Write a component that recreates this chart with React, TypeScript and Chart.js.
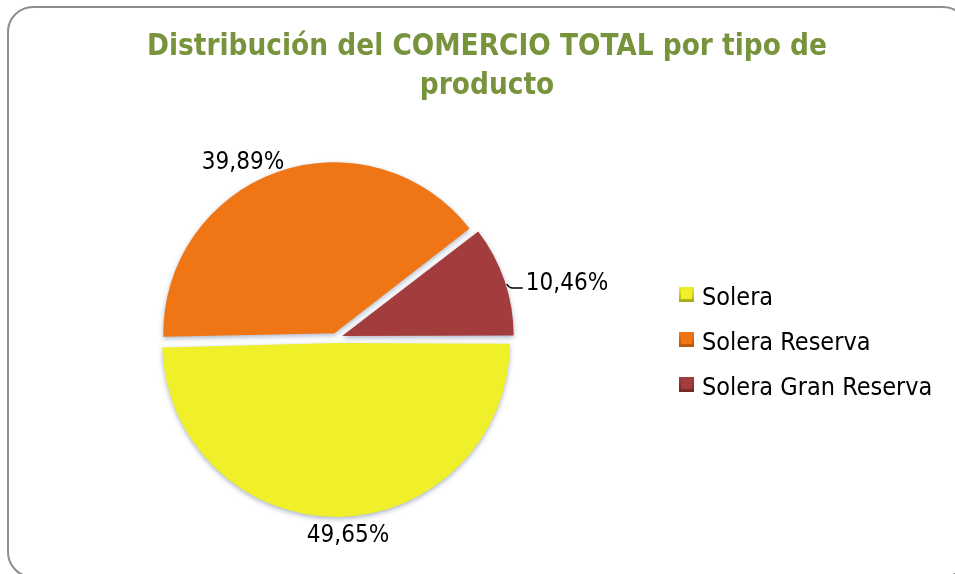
import React, { useEffect, useRef } from 'react';
import { Chart, registerables } from 'chart.js';

Chart.register(...registerables);

const categories = ['Solera', 'Solera Reserva', 'Solera Gran Reserva'];
const shares = [49.65, 39.89, 10.46];
const sliceColors = ['#EFF02A', '#F07615', '#A33D3D'];
const legendEdge = ['#A8A818', '#B85508', '#742525'];
const titleLines = ['Distribución del COMERCIO TOTAL por tipo de', 'producto'];

const fmt = (v: number) => v.toFixed(2).replace('.', ',') + '%';

function roundRectPath(ctx: CanvasRenderingContext2D, x: number, y: number, w: number, h: number, r: number) {
  ctx.beginPath();
  ctx.moveTo(x + r, y);
  ctx.lineTo(x + w - r, y);
  ctx.arcTo(x + w, y, x + w, y + r, r);
  ctx.lineTo(x + w, y + h - r);
  ctx.arcTo(x + w, y + h, x + w - r, y + h, r);
  ctx.lineTo(x + r, y + h);
  ctx.arcTo(x, y + h, x, y + h - r, r);
  ctx.lineTo(x, y + r);
  ctx.arcTo(x, y, x + r, y, r);
  ctx.closePath();
}

const FONT = '"DejaVu Sans Condensed", "DejaVu Sans", sans-serif';

const decorPlugin = {
  id: 'decor',
  beforeDraw(chart: any) {
    const ctx = chart.ctx as CanvasRenderingContext2D;
    ctx.save();
    ctx.fillStyle = '#ffffff';
    ctx.fillRect(0, 0, chart.width, chart.height);
    ctx.strokeStyle = '#8c8c8c';
    ctx.lineWidth = 2;
    roundRectPath(ctx, 8, 7, 960, 570, 25);
    ctx.stroke();
    ctx.fillStyle = '#77933C';
    ctx.font = 'bold 29.4px ' + FONT;
    ctx.textAlign = 'center';
    ctx.textBaseline = 'alphabetic';
    ctx.fillText(titleLines[0], 487, 55);
    ctx.fillText(titleLines[1], 487, 94);
    ctx.restore();
  },
  beforeDatasetsDraw(chart: any) {
    const ctx = chart.ctx as CanvasRenderingContext2D;
    ctx.save();
    ctx.shadowColor = 'rgba(70, 90, 130, 0.45)';
    ctx.shadowBlur = 5;
    ctx.shadowOffsetX = 0;
    ctx.shadowOffsetY = 2;
  },
  afterDatasetsDraw(chart: any) {
    const ctx = chart.ctx as CanvasRenderingContext2D;
    ctx.restore();
    const meta = chart.getDatasetMeta(0);
    const cx = meta.data[0].x;
    const cy = meta.data[0].y;
    // data labels, placed relative to the pie centre
    const labelShift = [
      [12, 204],
      [-93, -169],
      [231, -48],
    ];
    ctx.save();
    ctx.fillStyle = '#000';
    ctx.font = '24px ' + FONT;
    ctx.textAlign = 'center';
    ctx.textBaseline = 'alphabetic';
    shares.forEach((v, i) => {
      ctx.fillText(fmt(v), cx + labelShift[i][0], cy + labelShift[i][1]);
    });
    // leader line for the small slice, ending at its label
    const w = ctx.measureText(fmt(shares[2])).width;
    const lx = cx + labelShift[2][0] - w / 2 - 3;
    const ly = cy + labelShift[2][1] - 2;
    ctx.strokeStyle = '#000';
    ctx.lineWidth = 1.5;
    ctx.beginPath();
    ctx.moveTo(lx - 16, ly - 4);
    ctx.quadraticCurveTo(lx - 14, ly, lx - 10, ly);
    ctx.lineTo(lx, ly);
    ctx.stroke();

    // legend
    ctx.font = '25px ' + FONT;
    ctx.textAlign = 'left';
    categories.forEach((c, i) => {
      const base = 305 + i * 45;
      const g = ctx.createLinearGradient(0, base - 18, 0, base - 3);
      g.addColorStop(0, sliceColors[i]);
      g.addColorStop(1, legendEdge[i]);
      ctx.fillStyle = g;
      ctx.fillRect(679, base - 18, 15, 15);
      ctx.fillStyle = sliceColors[i];
      ctx.fillRect(681, base - 16, 11, 10);
      ctx.fillStyle = '#000';
      ctx.fillText(c, 702, base);
    });
    ctx.restore();
  },
};

export default function App() {
  const ref = useRef<HTMLCanvasElement>(null);
  useEffect(() => {
    if (!ref.current) return;
    const chart = new Chart(ref.current, {
      type: 'pie',
      data: {
        labels: categories,
        datasets: [
          {
            data: shares,
            backgroundColor: sliceColors,
            borderWidth: 0,
            offset: [20, 20, 26],
          },
        ],
      },
      options: {
        animation: false,
        responsive: true,
        maintainAspectRatio: false,
        rotation: 90,
        layout: { padding: { left: 154, top: 156, right: 437, bottom: 54 } },
        plugins: {
          legend: { display: false },
          title: { display: false },
          tooltip: { enabled: false },
        },
        events: [],
      },
      plugins: [decorPlugin],
    });
    return () => chart.destroy();
  }, []);
  return (
    <div style={{ position: 'fixed', left: 0, top: 0, width: 955, height: 574, background: '#fff' }}>
      <canvas ref={ref} />
    </div>
  );
}
